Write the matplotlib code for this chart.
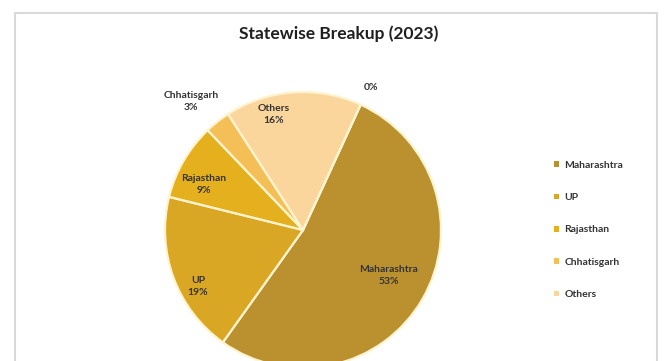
import matplotlib
matplotlib.use("Agg")
import matplotlib.pyplot as plt
from matplotlib.patches import Rectangle
import numpy as np

# ---- data ----
categories = ["Maharashtra", "UP", "Rajasthan", "Chhatisgarh", "Others", ""]
shares = [53, 19, 9, 3, 16, 0]
colors = ["#BB9130", "#D9A723", "#E4B01E", "#F5BF58", "#FAD69C", "#FFFFFF"]
title = "Statewise Breakup (2023)"

# label positions (axes data units, pie radius = 1)
label_pos = [(0.62, -0.33), (-0.76, -0.41), (-0.72, 0.33), (-0.81, 0.93), (-0.21, 0.84), (0.49, 1.03)]

W, H = 668, 361
fig = plt.figure(figsize=(W / 100, H / 100), dpi=100)
fig.patch.set_facecolor("white")

# chart frame
frame = Rectangle((15 / W, -0.05), (657 - 15) / W, 1 - 13 / H + 0.05,
                  transform=fig.transFigure, fill=False, ec="#D9D9D9", lw=1.5)
fig.add_artist(frame)

cx, cy, r = 303, 230, 138
ax = fig.add_axes([(cx - r) / W, (H - cy - r) / H, 2 * r / W, 2 * r / H])
ax.set_xlim(-1, 1)
ax.set_ylim(-1, 1)
ax.set_aspect("equal")
ax.axis("off")

start = 90 - 24.7
wedges, _ = ax.pie(shares, colors=colors, startangle=start, counterclock=False,
                   radius=1, center=(0, 0), frame=False,
                   wedgeprops=dict(edgecolor="#FFF4D0", linewidth=1.6))
ax.set_xlim(-1, 1)
ax.set_ylim(-1, 1)

font = "Lato"
total = sum(shares)
for name, val, (lx, ly) in zip(categories, shares, label_pos):
    pct = f"{round(100 * val / total)}%"
    txt = f"{name}\n{pct}" if name else pct
    ax.text(lx, ly, txt, ha="center", va="center", fontsize=7.5,
            fontweight="bold", color="#333333", family=font, linespacing=1.45,
            clip_on=False)

fig.text(339 / W, 1 - 34 / H, title, ha="center", va="center",
         fontsize=12.5, color="#1F1F1F", family=font, fontweight="bold")

# legend
handles = [Rectangle((0, 0), 1, 1, fc=c, ec="none") for c in colors[:5]]
leg = fig.legend(handles, categories[:5], loc="center left",
                 bbox_to_anchor=(545 / W, 1 - 230 / H), frameon=False,
                 handlelength=0.45, handleheight=0.45, handletextpad=0.5,
                 labelspacing=2.25, prop=dict(family=font, weight="bold", size=7.5))
for t in leg.get_texts():
    t.set_color("#333333")

fig.savefig("out.png", dpi=100, facecolor="white")
